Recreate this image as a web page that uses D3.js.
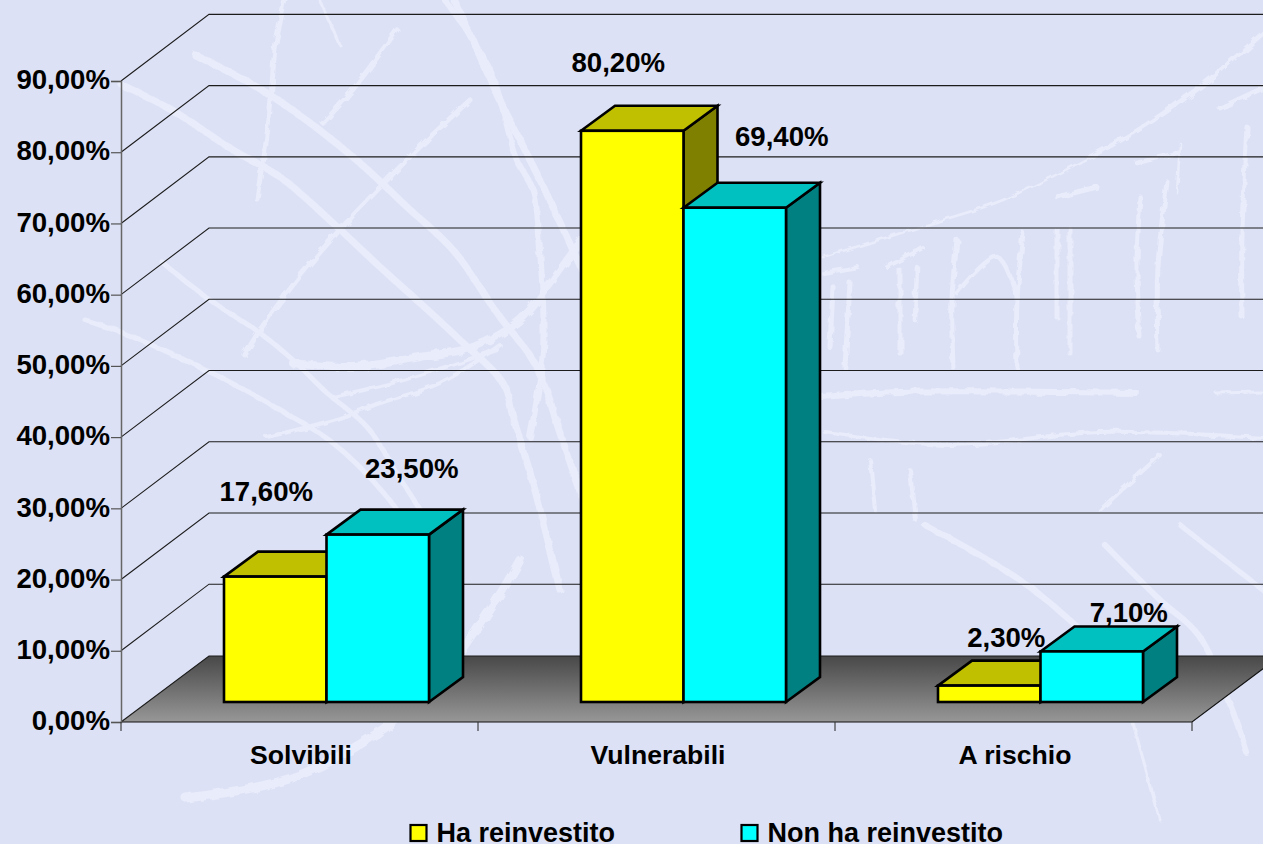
<!DOCTYPE html>
<html><head><meta charset="utf-8">
<script src="https://cdn.jsdelivr.net/npm/d3@7"></script>
<style>html,body{margin:0;padding:0;background:#DCE1F5;overflow:hidden}svg{display:block}
text{font-family:"Liberation Sans",Arial,sans-serif;font-weight:bold;fill:#000}</style>
</head><body><svg id="c" width="1263" height="844"></svg>
<script>
const categories = ["Solvibili", "Vulnerabili", "A rischio"];
const seriesNames = ["Ha reinvestito", "Non ha reinvestito"];
const haReinvestito = [17.6, 80.2, 2.3];
const nonHaReinvestito = [23.5, 69.4, 7.1];
const yTicks = [0, 10, 20, 30, 40, 50, 60, 70, 80, 90];

// Hand placed data label nudges (dx, dy from bar front-top centre), as in the source chart
const labelNudgeA = [[-9, -76], [-14, -59], [17, -39]];
const labelNudgeB = [[34, -57], [47, -62], [37, -29]];

// Decorative background scratches: [width, x0,y0, x1,y1, ...]
const scratches = [
 [7,122,85,175,112,233,150,280,177,333,223,380,267,420,303,460,340,503,383,513,417,533,483,560,590],
 [7,195,55,270,95,353,157,407,207,453,250,497,313,537,367,560,433,590,520],
 [5,470,100,427,140,387,180,337,233,297,280,260,330,245,355],
 [5,163,263,210,300,260,333,293,360,327,393,367,427,403,483,440,540],
 [5,85,320,120,332,163,350,220,377,280,410,333,443,387,497,430,560],
 [8,293,363,353,367,420,357,473,347,520,320,580,243,640,170],
 [4,333,397,403,380,497,350],
 [4,267,437,333,420,380,403,440,383,500,345],
 [6,445,0,490,70,517,160,533,190,540,250,543,350,530,437],
 [9,186,798,300,775,420,700,490,610,520,560],
 [5,285,0,275,50,270,110,258,200],
 [3,320,0,340,45],
 [5,397,30,350,93,323,123],
 [7,455,0,500,100,540,180,582,270],
 [5,1263,33,1200,87,1143,127,1090,157],
 [2.5,1090,157,1003,200,933,223,823,257],
 [5,1263,88,1220,108],
 [5,1247,127,1242,233,1242,317],
 [2.5,1180,143,1177,193],
 [4.5,1137,163,1177,153],
 [5,1167,182,1158,267,1158,350],
 [5,1140,197,1137,267,1140,337],
 [5,1057,197,1097,187],
 [5,1070,230,1070,353],
 [5,1057,230,1057,317],
 [5,1023,233,1017,300,1017,367],
 [5,957,240,952,300,953,367],
 [4.5,957,293,997,257,1017,297],
 [5,900,270,900,353],
 [4.5,917,267,915,320],
 [4,887,267,923,248],
 [5,833,287,830,347],
 [5,850,283,845,367],
 [4,823,273,858,267],
 [6,822,397,900,392,1137,393],
 [3,1216,393,1263,392],
 [4,825,432,950,445,1100,432,1263,438],
 [4,870,460,875,510],
 [4,910,470,915,520],
 [6,925,525,1020,580,1073,623,1100,650],
 [6,1105,545,1160,600,1200,637,1247,753],
 [5,1180,525,1263,590],
 [4,1160,455,1100,510],
 [3,1133,723,1160,820],
 [4,1033,587,1073,623]
];

const W = 1263, H = 844;
const svg = d3.select("#c").attr("viewBox", `0 0 ${W} ${H}`);

const Y0 = 722, Y90 = 81, X0 = 121, X1 = 1192;
const depthX = 88, depthY = 66;                 // wall/floor depth
const barDepthX = 34, barDepthY = 25;           // bar depth
const planeX = 27, planeY = 20;                 // bar front plane relative to the front of the floor
const barGroupWidth = 205;

const y = d3.scaleLinear().domain([0, 90]).range([Y0, Y90]);
const xCat = d3.scaleBand().domain(categories).range([X0, X1]);
const xSer = d3.scaleBand().domain(seriesNames).range([0, barGroupWidth]);

const defs = svg.append("defs");
const grad = defs.append("linearGradient").attr("id", "floor").attr("x1", 0).attr("y1", 0).attr("x2", 0).attr("y2", 1);
grad.append("stop").attr("offset", 0).attr("stop-color", "#484848");
grad.append("stop").attr("offset", 1).attr("stop-color", "#979797");
const soft = defs.append("filter").attr("id", "soft").attr("filterUnits", "userSpaceOnUse")
  .attr("x", 0).attr("y", 0).attr("width", W).attr("height", H);
soft.append("feTurbulence").attr("type", "fractalNoise").attr("baseFrequency", 0.09).attr("numOctaves", 2).attr("seed", 4).attr("result", "n");
soft.append("feDisplacementMap").attr("in", "SourceGraphic").attr("in2", "n").attr("scale", 6).attr("result", "d");
soft.append("feGaussianBlur").attr("in", "d").attr("stdDeviation", 0.7);

// background
svg.append("rect").attr("width", W).attr("height", H).attr("fill", "#DCE1F5");
const lineGen = d3.line().curve(d3.curveCatmullRom);
svg.append("g").attr("filter", "url(#soft)").selectAll("path").data(scratches).join("path")
  .attr("d", s => lineGen(d3.range(1, s.length, 2).map(i => [s[i], s[i + 1]])))
  .attr("fill", "none").attr("stroke", "#E9ECFA").attr("stroke-width", s => s[0]).attr("stroke-linecap", "round");

// floor
const fy = Y0;
svg.append("path")
  .attr("d", `M${X0},${fy}L${X0 + depthX},${fy - depthY}L${X1 + depthX},${fy - depthY}L${X1},${fy}Z`)
  .attr("fill", "url(#floor)");

// gridlines on side and back wall
const grid = svg.append("g").attr("fill", "none").attr("stroke", "#1c1c1c").attr("stroke-width", 1.1);
grid.selectAll("path").data(yTicks).join("path")
  .attr("d", t => `M${X0},${y(t)}L${X0 + depthX},${y(t) - depthY - (t === 0 ? 0 : 0.6)}L${W + 5},${y(t) - depthY - (t === 0 ? 0 : 0.6)}`);

// front floor edge and right edge
svg.append("path").attr("fill", "none").attr("stroke", "#111").attr("stroke-width", 1.1)
  .attr("d", `M${X0},${fy}L${X1},${fy}L${X1 + depthX},${fy - depthY}`);

// y axis
const yAxisG = svg.append("g").attr("transform", `translate(${X0},0)`)
  .call(d3.axisLeft(y).tickValues(yTicks).tickSize(10).tickPadding(1)
    .tickFormat(d => d3.format(".2f")(d).replace(".", ",") + "%"));
yAxisG.select(".domain").attr("stroke", "#666").attr("stroke-width", 1.5);
yAxisG.selectAll(".tick line").attr("stroke", "#555").attr("stroke-width", 1.2);
yAxisG.selectAll(".tick text").attr("font-size", 27.6).attr("font-family", null).attr("dy", "0.28em").attr("x", -11);

// x axis ticks and labels
const xTickPositions = [...categories.map(c => xCat(c)), X1];
svg.append("g").selectAll("line").data(xTickPositions).join("line")
  .attr("x1", d => d).attr("x2", d => d).attr("y1", Y0).attr("y2", Y0 + 9)
  .attr("stroke", "#333").attr("stroke-width", 1.1);
svg.append("g").selectAll("text").data(categories).join("text")
  .attr("x", c => xCat(c) + xCat.bandwidth() / 2 + 1.5).attr("y", Y0 + 42)
  .attr("text-anchor", "middle").attr("font-size", 26.6).text(c => c);

// bars
const colors = [
  { front: "#FFFF00", top: "#C0C000", side: "#808000" },
  { front: "#00FFFF", top: "#00C0C0", side: "#008080" }
];
const values = [haReinvestito, nonHaReinvestito];
const nudges = [labelNudgeA, labelNudgeB];
const bars = svg.append("g").attr("stroke", "#000").attr("stroke-width", 2.6).attr("stroke-linejoin", "miter");
categories.forEach((c, ci) => {
  seriesNames.forEach((s, si) => {
    const v = values[si][ci];
    const x0 = xCat(c) + (xCat.bandwidth() - barGroupWidth) / 2 + planeX + xSer(s);
    const x1 = x0 + xSer.bandwidth();
    const yb = y(0) - planeY;
    const yt = y(v) - planeY;
    const g = bars.append("g");
    g.append("path").attr("fill", colors[si].side)
      .attr("d", `M${x1},${yb}L${x1 + barDepthX},${yb - barDepthY}L${x1 + barDepthX},${yt - barDepthY}L${x1},${yt}Z`);
    g.append("path").attr("fill", colors[si].top)
      .attr("d", `M${x0},${yt}L${x0 + barDepthX},${yt - barDepthY}L${x1 + barDepthX},${yt - barDepthY}L${x1},${yt}Z`);
    g.append("rect").attr("fill", colors[si].front)
      .attr("x", x0).attr("y", yt).attr("width", x1 - x0).attr("height", yb - yt);
  });
});

// data labels
const labels = svg.append("g");
categories.forEach((c, ci) => {
  seriesNames.forEach((s, si) => {
    const v = values[si][ci];
    const x0 = xCat(c) + (xCat.bandwidth() - barGroupWidth) / 2 + planeX + xSer(s);
    const [dx, dy] = nudges[si][ci];
    labels.append("text")
      .attr("x", x0 + xSer.bandwidth() / 2 + dx)
      .attr("y", y(v) - planeY + dy)
      .attr("text-anchor", "middle").attr("font-size", 27.6)
      .text(d3.format(".2f")(v).replace(".", ",") + "%");
  });
});

// legend
const legendX = [410.5, 741.5];
const legend = svg.append("g").selectAll("g").data(seriesNames).join("g")
  .attr("transform", (d, i) => `translate(${legendX[i]},825)`);
legend.append("rect").attr("width", 16).attr("height", 16)
  .attr("fill", (d, i) => colors[i].front).attr("stroke", "#000").attr("stroke-width", 2.2);
legend.append("text").attr("x", 26).attr("y", 16.5).attr("font-size", 27).text(d => d);
</script></body></html>
